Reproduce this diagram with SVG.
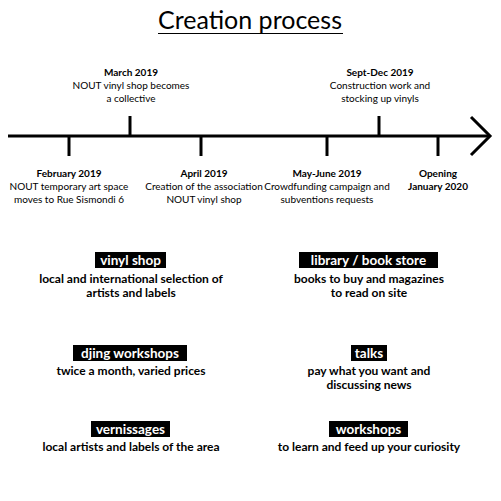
<svg xmlns="http://www.w3.org/2000/svg" width="501" height="501" viewBox="0 0 501 501">
<style>
text{font-family:Lato,"Open Sans","Liberation Sans",sans-serif;fill:#000;text-anchor:middle}
.title{font-size:25px}
.tl{font-size:10px}
.b{font-weight:bold}
.lab{font-size:13.5px;font-weight:bold;fill:#fff}
.desc{font-size:12px;font-weight:bold}
.box{fill:#000}
.ax{stroke:#000;stroke-width:3;fill:none}
</style>
<rect width="501" height="501" fill="#fff"/>
<g id="title">
<text class="title" x="250" y="29">Creation process</text>
<line x1="158" y1="33.5" x2="343" y2="33.5" stroke="#000" stroke-width="1.2"/>
</g>
<g id="connectors">
<line class="ax" x1="8" y1="136" x2="490" y2="136"/>
<polyline class="ax" points="471,117 490,136 471,155"/>
<line class="ax" x1="130" y1="116" x2="130" y2="136"/>
<line class="ax" x1="379" y1="116" x2="379" y2="136"/>
<line class="ax" x1="69" y1="136" x2="69" y2="156"/>
<line class="ax" x1="201" y1="136" x2="201" y2="156"/>
<line class="ax" x1="327" y1="136" x2="327" y2="156"/>
<line class="ax" x1="438" y1="136" x2="438" y2="156"/>
</g>
<g id="march">
<text class="tl b" x="131" y="76">March 2019</text>
<text class="tl" x="131" y="89">NOUT vinyl shop becomes</text>
<text class="tl" x="131" y="102">a collective</text>
</g>
<g id="sept">
<text class="tl b" x="380" y="76">Sept-Dec 2019</text>
<text class="tl" x="380" y="89">Construction work and</text>
<text class="tl" x="380" y="102">stocking up vinyls</text>
</g>
<g id="feb">
<text class="tl b" x="69" y="177">February 2019</text>
<text class="tl" x="69" y="190">NOUT temporary art space</text>
<text class="tl" x="69" y="203">moves to Rue Sismondi 6</text>
</g>
<g id="april">
<text class="tl b" x="204" y="177">April 2019</text>
<text class="tl" x="204" y="190">Creation of the association</text>
<text class="tl" x="204" y="203">NOUT vinyl shop</text>
</g>
<g id="may">
<text class="tl b" x="327" y="177">May-June 2019</text>
<text class="tl" x="327" y="190">Crowdfunding campaign and</text>
<text class="tl" x="327" y="203">subventions requests</text>
</g>
<g id="opening">
<text class="tl b" x="438" y="177">Opening</text>
<text class="tl b" x="438" y="190">January 2020</text>
</g>
<g id="vinyl">
<rect class="box" x="95" y="252" width="71" height="16"/>
<text class="lab" x="130.5" y="265">vinyl shop</text>
<text class="desc" x="131" y="283">local and international selection of</text>
<text class="desc" x="131" y="297">artists and labels</text>
</g>
<g id="library">
<rect class="box" x="299" y="252" width="139" height="16"/>
<text class="lab" x="368.5" y="265">library / book store</text>
<text class="desc" x="369" y="283">books to buy and magazines</text>
<text class="desc" x="369" y="297">to read on site</text>
</g>
<g id="djing">
<rect class="box" x="73" y="345" width="114" height="16"/>
<text class="lab" x="130" y="358">djing workshops</text>
<text class="desc" x="131" y="375">twice a month, varied prices</text>
</g>
<g id="talks">
<rect class="box" x="351" y="345" width="36" height="16"/>
<text class="lab" x="369" y="358">talks</text>
<text class="desc" x="369" y="375">pay what you want and</text>
<text class="desc" x="369" y="389">discussing news</text>
</g>
<g id="vernissages">
<rect class="box" x="91" y="421" width="79" height="16"/>
<text class="lab" x="130.5" y="434">vernissages</text>
<text class="desc" x="131" y="451">local artists and labels of the area</text>
</g>
<g id="workshops">
<rect class="box" x="329" y="421" width="79" height="16"/>
<text class="lab" x="368.5" y="434">workshops</text>
<text class="desc" x="369" y="451">to learn and feed up your curiosity</text>
</g>
</svg>
